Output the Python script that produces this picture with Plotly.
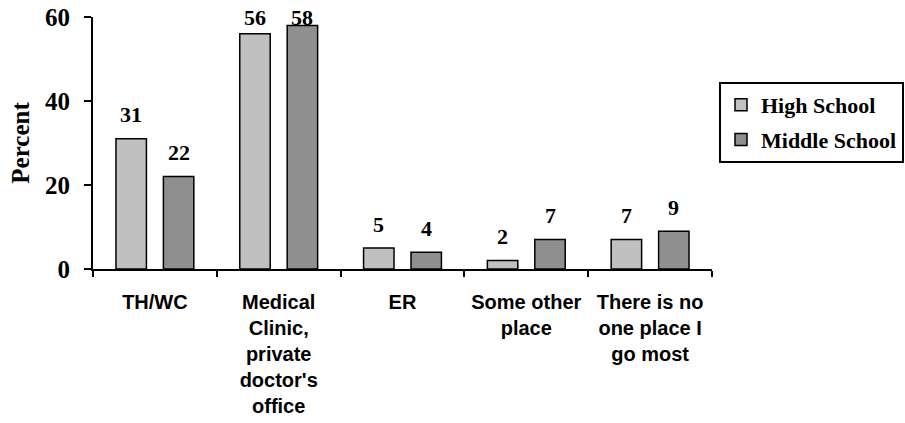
import plotly.graph_objects as go

# Where students go most often for health care, by school level
categories = [
    "TH/WC",
    "Medical<br>Clinic,<br>private<br>doctor's<br>office",
    "ER",
    "Some other<br>place",
    "There is no<br>one place I<br>go most",
]
high_school = [31, 56, 5, 2, 7]
middle_school = [22, 58, 4, 7, 9]
y_ticks = [0, 20, 40, 60]

# Layout constants
W, H = 905, 423
M_L, M_R, M_T, M_B = 93, 193, 17, 154
Y_MAX = 60
BARGAP = 0.234
BARGROUPGAP = 0.358
SERIF = "Liberation Serif, Times New Roman, serif"
SANS = "Liberation Sans, Arial, sans-serif"

plot_w = W - M_L - M_R
plot_h = H - M_T - M_B
slot_px = plot_w / len(categories) * (1 - BARGAP) / 2
label_pad = 24 * Y_MAX / plot_h  # label sits ~24px above bar top

fig = go.Figure()
fig.add_trace(go.Bar(
    name="High School", x=categories, y=high_school, legendgroup="hs",
    marker=dict(color="#C0C0C0", line=dict(color="black", width=1.5)),
))
fig.add_trace(go.Bar(
    name="Middle School", x=categories, y=middle_school, legendgroup="ms",
    marker=dict(color="#8F8F8F", line=dict(color="black", width=1.5)),
))

annotations = []
for values, sign in ((high_school, -1), (middle_school, 1)):
    for cat, v in zip(categories, values):
        annotations.append(dict(
            x=cat, y=min(v + label_pad, Y_MAX), xref="x", yref="y",
            text=f"<b>{v}</b>", showarrow=False, yanchor="middle",
            xshift=sign * slot_px / 2,
            font=dict(family=SERIF, size=22, color="black"),
        ))

fig.update_layout(
    width=W, height=H,
    margin=dict(l=M_L, r=M_R, t=M_T, b=M_B, pad=0, autoexpand=False),
    paper_bgcolor="white", plot_bgcolor="white",
    barmode="group", bargap=BARGAP, bargroupgap=BARGROUPGAP,
    showlegend=True,
    legend=dict(
        x=(719 - M_L) / plot_w, y=(M_T + plot_h - 82) / plot_h,
        xanchor="left", yanchor="top",
        bordercolor="black", borderwidth=2, bgcolor="white",
        font=dict(family=SERIF, size=22, color="black", weight="bold"),
        tracegroupgap=3, traceorder="grouped",
        itemwidth=30,
    ),
    annotations=annotations,
)
fig.update_xaxes(
    type="category", showline=True, linecolor="black", linewidth=2,
    ticks="outside", tickson="boundaries", ticklen=6, tickwidth=2, tickcolor="black",
    showgrid=False, ticklabelstandoff=14,
    tickfont=dict(family=SANS, size=20, color="black", weight="bold"),
)
fig.update_yaxes(
    range=[0, Y_MAX], tickvals=y_ticks, showline=True, linecolor="black", linewidth=2,
    ticks="outside", ticklen=7, tickwidth=2, tickcolor="black",
    showgrid=False, zeroline=False, ticklabelstandoff=9,
    tickfont=dict(family=SERIF, size=25, color="black", weight="bold"),
    title=dict(text="<b>Percent</b>", standoff=8,
               font=dict(family=SERIF, size=25, color="black")),
)

fig.write_html("out.html")
